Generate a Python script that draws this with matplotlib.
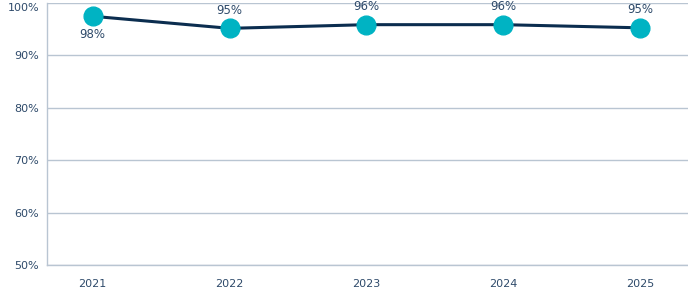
import matplotlib
matplotlib.use("Agg")
import matplotlib.pyplot as plt
from matplotlib.ticker import FuncFormatter

years = ["2021", "2022", "2023", "2024", "2025"]
values = [97.4, 95.1, 95.8, 95.8, 95.2]
labels = ["98%", "95%", "96%", "96%", "95%"]
label_below = [True, False, False, False, False]
yticks = [50, 60, 70, 80, 90, 100]

text_color = "#2e4a6a"
grid_color = "#b9c5d2"
line_color = "#0b2d4f"
marker_color = "#00b3c3"

plt.rcParams['font.family'] = ['DejaVu Sans']
fig = plt.figure(figsize=(6.88, 2.91), dpi=100)
ax = fig.add_axes([0.069, 0.089, 0.931, 0.902])

x = list(range(len(years)))
ax.plot(x, values, color=line_color, linewidth=2.2, zorder=3)
ax.plot(x, values, linestyle="none", marker="o", markersize=13.5,
        markerfacecolor=marker_color, markeredgecolor=marker_color, zorder=4)

for xi, v, lab, below in zip(x, values, labels, label_below):
    ax.annotate(lab, (xi, v), xytext=(0, -13 if below else 13), textcoords="offset points",
                ha="center", va="center", fontsize=8.5, color=text_color, zorder=5)

ax.set_ylim(50, 100)
ax.set_xlim(-0.33, 4.35)
ax.set_yticks(yticks)
ax.yaxis.set_major_formatter(FuncFormatter(lambda v, p: f"{int(v)}%"))
ax.set_xticks(x)
ax.set_xticklabels(years)
ax.grid(axis="y", color=grid_color, linewidth=1)
ax.set_axisbelow(True)
for s in ["top", "right"]:
    ax.spines[s].set_visible(False)
for s in ["left", "bottom"]:
    ax.spines[s].set_color(grid_color)
    ax.spines[s].set_linewidth(1)
ax.tick_params(axis="both", length=0, labelsize=8, colors=text_color)
ax.tick_params(axis="x", pad=10)
ax.tick_params(axis="y", pad=6)
fig.canvas.draw()
ax.get_yticklabels()[-1].set_verticalalignment("top")

fig.savefig("out.png", dpi=100)
